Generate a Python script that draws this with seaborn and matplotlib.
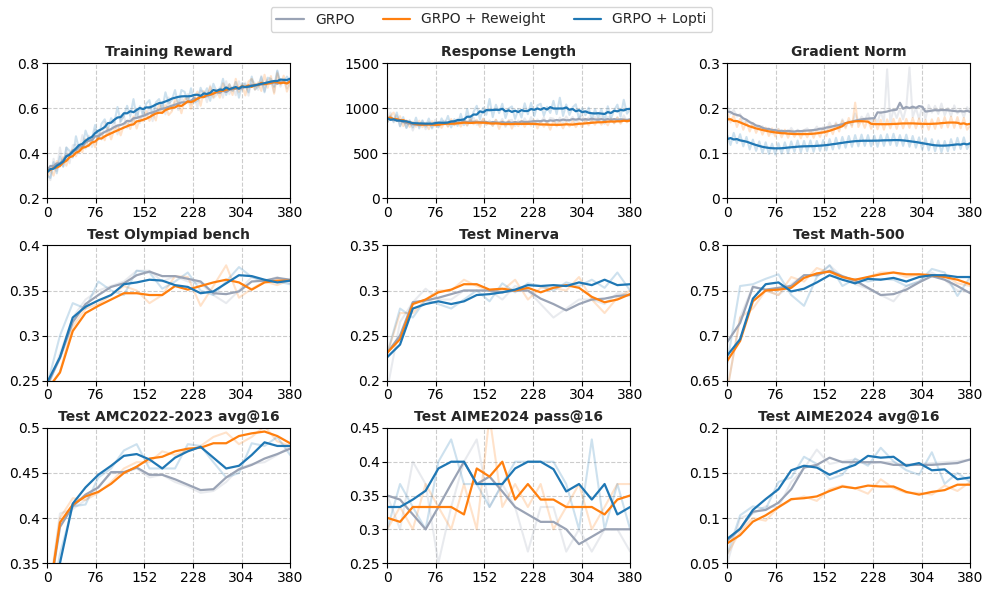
import numpy as np
import pandas as pd
import matplotlib
matplotlib.use("Agg")
import matplotlib.pyplot as plt
from matplotlib.ticker import MultipleLocator, FuncFormatter
import seaborn as sns

# ---------------- data ----------------
methods = ["GRPO", "GRPO + Reweight", "GRPO + Lopti"]
colors = {"GRPO": "#9aa3b5", "GRPO + Reweight": "#ff7f0e", "GRPO + Lopti": "#1f77b4"}

steps_train = np.arange(0, 381, 5)   # 77 points
steps_test = np.arange(0, 381, 20)   # 20 points
x_ticks = [0, 76, 152, 228, 304, 380]

# ---- Training Reward (raw) ----
reward_grpo = [0.315, 0.28, 0.375, 0.32, 0.425, 0.34, 0.425, 0.355, 0.435, 0.438, 0.40,
               0.48, 0.42, 0.478, 0.427, 0.505, 0.492, 0.46, 0.537, 0.484, 0.50, 0.547,
               0.483, 0.55, 0.566, 0.512, 0.558, 0.533, 0.598, 0.533, 0.587, 0.562, 0.607,
               0.542, 0.607, 0.582, 0.627, 0.572, 0.647, 0.592, 0.627, 0.591, 0.645, 0.619,
               0.662, 0.616, 0.65, 0.604, 0.678, 0.672, 0.626, 0.70, 0.644, 0.658, 0.692,
               0.646, 0.719, 0.662, 0.695, 0.657, 0.719, 0.681, 0.713, 0.655, 0.727, 0.709,
               0.681, 0.743, 0.675, 0.727, 0.719, 0.671, 0.763, 0.695, 0.726, 0.687, 0.728]
reward_rew = [0.295, 0.325, 0.30, 0.365, 0.34, 0.382, 0.344, 0.396, 0.416, 0.386, 0.425,
              0.404, 0.462, 0.43, 0.468, 0.426, 0.473, 0.49, 0.457, 0.514, 0.461, 0.507,
              0.523, 0.479, 0.525, 0.541, 0.507, 0.563, 0.509, 0.555, 0.541, 0.587, 0.543,
              0.579, 0.545, 0.621, 0.577, 0.613, 0.569, 0.585, 0.64, 0.624, 0.577, 0.64,
              0.643, 0.597, 0.645, 0.673, 0.61, 0.675, 0.65, 0.694, 0.648, 0.682, 0.646,
              0.71, 0.673, 0.706, 0.658, 0.73, 0.672, 0.704, 0.656, 0.718, 0.73, 0.682,
              0.714, 0.676, 0.748, 0.69, 0.742, 0.664, 0.755, 0.705, 0.744, 0.673, 0.712]
reward_lopti = [0.30, 0.29, 0.36, 0.31, 0.385, 0.34, 0.425, 0.41, 0.38, 0.475, 0.417,
                0.42, 0.50, 0.46, 0.465, 0.525, 0.46, 0.53, 0.55, 0.505, 0.555, 0.535,
                0.605, 0.54, 0.565, 0.61, 0.565, 0.64, 0.555, 0.608, 0.57, 0.62, 0.635,
                0.57, 0.625, 0.64, 0.595, 0.67, 0.62, 0.635, 0.68, 0.615, 0.68, 0.672,
                0.625, 0.688, 0.625, 0.632, 0.69, 0.655, 0.688, 0.632, 0.708, 0.672, 0.666,
                0.73, 0.658, 0.706, 0.676, 0.716, 0.646, 0.71, 0.705, 0.67, 0.74, 0.682,
                0.695, 0.738, 0.67, 0.735, 0.73, 0.695, 0.767, 0.71, 0.715, 0.74, 0.72]

# ---- Response Length (raw) ----
length_grpo = [870, 950, 840, 920, 795, 870, 780, 865, 750, 848, 796,
               855, 765, 846, 788, 870, 783, 846, 860, 794, 857, 810,
               882, 824, 875, 805, 865, 895, 815, 825, 885, 815, 863,
               802, 871, 820, 880, 790, 860, 870, 800, 862, 814, 886,
               818, 900, 812, 874, 836, 898, 810, 891, 882, 823, 894,
               835, 907, 849, 901, 823, 895, 915, 845, 895, 835, 905,
               855, 914, 823, 902, 891, 830, 900, 840, 920, 850, 870]
length_rew = [840, 915, 950, 855, 910, 800, 865, 790, 846, 792, 860,
              788, 837, 766, 855, 796, 848, 780, 843, 795, 878, 810,
              862, 794, 855, 807, 878, 820, 870, 790, 878, 816, 845,
              803, 870, 768, 856, 805, 863, 772, 851, 800, 861, 792,
              853, 804, 865, 774, 853, 792, 841, 760, 858, 796, 845,
              775, 845, 795, 856, 788, 842, 787, 882, 808, 862, 815,
              885, 815, 866, 808, 880, 832, 894, 826, 878, 842, 865]
length_lopti = [840, 910, 850, 951, 800, 900, 780, 860, 785, 894, 774,
                864, 794, 884, 774, 846, 790, 885, 820, 913, 785, 878,
                802, 936, 810, 990, 835, 957, 1025, 875, 1003, 925, 1101,
                900, 1037, 944, 1048, 890, 995, 1018, 880, 987, 895, 1053,
                932, 1058, 911, 1030, 1048, 916, 1014, 946, 1080, 933, 1115,
                913, 1040, 924, 1008, 1042, 875, 998, 920, 1005, 870, 987,
                893, 990, 858, 1020, 885, 975, 1038, 905, 1092, 938, 984]

# ---- Gradient Norm (raw) ----
grad_grpo = [0.205, 0.187, 0.196, 0.181, 0.187, 0.165, 0.173, 0.171, 0.157, 0.162, 0.153,
             0.16, 0.149, 0.155, 0.143, 0.153, 0.154, 0.144, 0.15, 0.142, 0.156, 0.145,
             0.152, 0.143, 0.151, 0.155, 0.146, 0.149, 0.159, 0.149, 0.158, 0.15, 0.168,
             0.154, 0.168, 0.155, 0.175, 0.159, 0.171, 0.162, 0.188, 0.167, 0.181, 0.173,
             0.188, 0.168, 0.18, 0.168, 0.192, 0.169, 0.286, 0.168, 0.197, 0.178, 0.198,
             0.175, 0.202, 0.29, 0.18, 0.20, 0.176, 0.204, 0.176, 0.207, 0.19, 0.205,
             0.187, 0.21, 0.184, 0.2, 0.182, 0.206, 0.188, 0.198, 0.18, 0.202, 0.19]
grad_rew = [0.19, 0.168, 0.184, 0.158, 0.176, 0.152, 0.17, 0.148, 0.166, 0.145, 0.16,
            0.141, 0.157, 0.138, 0.155, 0.137, 0.153, 0.135, 0.152, 0.134, 0.15, 0.136,
            0.149, 0.133, 0.15, 0.135, 0.151, 0.134, 0.152, 0.136, 0.155, 0.138, 0.16,
            0.142, 0.165, 0.148, 0.172, 0.155, 0.178, 0.158, 0.212, 0.158, 0.175, 0.156,
            0.176, 0.154, 0.175, 0.153, 0.174, 0.152, 0.175, 0.155, 0.176, 0.154, 0.177,
            0.155, 0.176, 0.156, 0.178, 0.155, 0.177, 0.154, 0.174, 0.152, 0.175, 0.154,
            0.178, 0.156, 0.18, 0.157, 0.181, 0.156, 0.18, 0.155, 0.178, 0.152, 0.161]
grad_lopti = [0.14, 0.118, 0.145, 0.122, 0.142, 0.115, 0.136, 0.108, 0.13, 0.105, 0.126,
              0.1, 0.124, 0.098, 0.121, 0.097, 0.122, 0.099, 0.124, 0.1, 0.126, 0.103,
              0.128, 0.102, 0.127, 0.104, 0.128, 0.103, 0.127, 0.105, 0.129, 0.106, 0.131,
              0.108, 0.134, 0.11, 0.136, 0.112, 0.138, 0.114, 0.14, 0.115, 0.141, 0.116,
              0.14, 0.115, 0.139, 0.114, 0.14, 0.116, 0.142, 0.118, 0.143, 0.116, 0.14,
              0.116, 0.141, 0.114, 0.138, 0.112, 0.135, 0.108, 0.133, 0.106, 0.131, 0.104,
              0.128, 0.102, 0.127, 0.104, 0.131, 0.107, 0.134, 0.109, 0.135, 0.109, 0.122]

# ---- Test Olympiad bench ----
oly_grpo_raw = [0.24, 0.28, 0.32, 0.34, 0.35, 0.355, 0.36, 0.372, 0.372, 0.36,
                0.366, 0.36, 0.358, 0.345, 0.336, 0.35, 0.365, 0.36, 0.365, 0.358]
oly_rew_raw = [0.24, 0.26, 0.31, 0.33, 0.335, 0.345, 0.355, 0.35, 0.336, 0.345,
               0.366, 0.365, 0.333, 0.355, 0.378, 0.342, 0.352, 0.36, 0.356, 0.362]
oly_lopti_raw = [0.245, 0.30, 0.336, 0.33, 0.36, 0.35, 0.345, 0.372, 0.37, 0.352,
                 0.36, 0.37, 0.35, 0.345, 0.36, 0.376, 0.365, 0.36, 0.36, 0.357]
oly_grpo = [0.245, 0.275, 0.315, 0.335, 0.345, 0.354, 0.358, 0.367, 0.371, 0.366,
            0.366, 0.363, 0.36, 0.347, 0.346, 0.349, 0.36, 0.361, 0.364, 0.362]
oly_rew = [0.24, 0.259, 0.305, 0.325, 0.333, 0.34, 0.347, 0.347, 0.345, 0.345,
           0.355, 0.351, 0.355, 0.359, 0.362, 0.359, 0.351, 0.359, 0.361, 0.361]
oly_lopti = [0.248, 0.276, 0.32, 0.332, 0.339, 0.345, 0.357, 0.359, 0.362, 0.361,
             0.356, 0.354, 0.347, 0.349, 0.358, 0.367, 0.366, 0.362, 0.359, 0.361]

# ---- Test Minerva ----
min_grpo_raw = [0.19, 0.265, 0.287, 0.302, 0.29, 0.29, 0.3, 0.3, 0.3, 0.29,
                0.305, 0.3, 0.285, 0.27, 0.28, 0.29, 0.29, 0.285, 0.297, 0.296]
min_rew_raw = [0.23, 0.275, 0.275, 0.29, 0.3, 0.3, 0.312, 0.305, 0.3, 0.3,
               0.312, 0.29, 0.303, 0.303, 0.3, 0.315, 0.29, 0.275, 0.292, 0.3]
min_lopti_raw = [0.23, 0.28, 0.27, 0.29, 0.285, 0.28, 0.29, 0.3, 0.288, 0.308,
                 0.298, 0.308, 0.305, 0.30, 0.309, 0.305, 0.312, 0.303, 0.32, 0.30]
min_grpo = [0.231, 0.25, 0.287, 0.289, 0.292, 0.296, 0.3, 0.3, 0.3, 0.298,
            0.3, 0.3, 0.291, 0.285, 0.278, 0.285, 0.29, 0.291, 0.294, 0.295]
min_rew = [0.231, 0.246, 0.285, 0.29, 0.298, 0.301, 0.307, 0.307, 0.301, 0.302,
           0.3, 0.303, 0.298, 0.303, 0.306, 0.303, 0.293, 0.287, 0.29, 0.296]
min_lopti = [0.226, 0.24, 0.28, 0.285, 0.288, 0.285, 0.288, 0.295, 0.296, 0.298,
             0.301, 0.306, 0.305, 0.306, 0.305, 0.309, 0.306, 0.312, 0.306, 0.307]

# ---- Test Math-500 ----
m500_grpo_raw = [0.64, 0.72, 0.755, 0.75, 0.745, 0.757, 0.767, 0.767, 0.778, 0.765,
                 0.757, 0.752, 0.745, 0.738, 0.755, 0.76, 0.77, 0.762, 0.75, 0.748]
m500_rew_raw = [0.64, 0.72, 0.73, 0.75, 0.745, 0.765, 0.76, 0.775, 0.77, 0.765,
                0.76, 0.765, 0.77, 0.77, 0.765, 0.768, 0.765, 0.767, 0.758, 0.755]
m500_lopti_raw = [0.67, 0.755, 0.757, 0.763, 0.768, 0.745, 0.733, 0.765, 0.778, 0.755,
                  0.763, 0.76, 0.763, 0.762, 0.755, 0.76, 0.774, 0.77, 0.744, 0.765]
m500_grpo = [0.693, 0.714, 0.754, 0.751, 0.753, 0.755, 0.767, 0.767, 0.772, 0.766,
             0.761, 0.753, 0.745, 0.746, 0.751, 0.759, 0.766, 0.762, 0.755, 0.747]
m500_rew = [0.672, 0.694, 0.738, 0.75, 0.751, 0.753, 0.764, 0.769, 0.771, 0.765,
            0.762, 0.765, 0.768, 0.77, 0.768, 0.768, 0.767, 0.765, 0.762, 0.757]
m500_lopti = [0.678, 0.696, 0.741, 0.757, 0.759, 0.749, 0.752, 0.759, 0.767, 0.762,
              0.758, 0.763, 0.762, 0.764, 0.76, 0.765, 0.767, 0.767, 0.765, 0.765]

# ---- Test AMC2022-2023 avg@16 ----
amc_grpo_raw = [0.30, 0.405, 0.41, 0.42, 0.435, 0.45, 0.45, 0.455, 0.445, 0.448,
                0.44, 0.435, 0.428, 0.43, 0.44, 0.455, 0.46, 0.462, 0.47, 0.48]
amc_rew_raw = [0.30, 0.40, 0.422, 0.42, 0.428, 0.44, 0.455, 0.462, 0.462, 0.474,
               0.47, 0.475, 0.48, 0.49, 0.495, 0.482, 0.49, 0.502, 0.485, 0.48]
amc_lopti_raw = [0.28, 0.36, 0.413, 0.415, 0.445, 0.455, 0.475, 0.482, 0.455, 0.455,
                 0.455, 0.482, 0.48, 0.462, 0.445, 0.45, 0.483, 0.48, 0.49, 0.47]
amc_grpo = [0.30, 0.39, 0.413, 0.426, 0.434, 0.451, 0.451, 0.456, 0.448, 0.448,
            0.443, 0.437, 0.431, 0.432, 0.445, 0.454, 0.459, 0.466, 0.471, 0.477]
amc_rew = [0.30, 0.395, 0.415, 0.424, 0.429, 0.438, 0.45, 0.457, 0.466, 0.468,
           0.474, 0.477, 0.478, 0.483, 0.483, 0.491, 0.494, 0.496, 0.491, 0.483]
amc_lopti = [0.28, 0.35, 0.416, 0.434, 0.448, 0.458, 0.469, 0.471, 0.465, 0.455,
             0.467, 0.474, 0.479, 0.467, 0.455, 0.458, 0.47, 0.484, 0.48, 0.48]

# ---- Test AIME2024 pass@16 ----
pass_grpo_raw = [0.35, 0.3, 0.4, 0.367, 0.25, 0.333, 0.4, 0.433, 0.333, 0.367,
                 0.333, 0.267, 0.333, 0.333, 0.267, 0.3, 0.267, 0.3, 0.3, 0.267]
pass_rew_raw = [0.3, 0.333, 0.3, 0.367, 0.333, 0.3, 0.367, 0.3, 0.467, 0.333,
                0.367, 0.333, 0.367, 0.3, 0.333, 0.367, 0.3, 0.333, 0.367, 0.367]
pass_lopti_raw = [0.3, 0.367, 0.333, 0.3, 0.4, 0.433, 0.367, 0.367, 0.333, 0.367,
                  0.4, 0.4, 0.4, 0.4, 0.367, 0.3, 0.433, 0.3, 0.367, 0.3]
pass_grpo = [0.35, 0.344, 0.322, 0.3, 0.333, 0.367, 0.4, 0.367, 0.378, 0.356,
             0.333, 0.322, 0.311, 0.311, 0.3, 0.278, 0.289, 0.3, 0.3, 0.3]
pass_rew = [0.317, 0.311, 0.333, 0.333, 0.333, 0.333, 0.322, 0.39, 0.378, 0.4,
            0.344, 0.367, 0.344, 0.344, 0.333, 0.333, 0.333, 0.322, 0.344, 0.35]
pass_lopti = [0.333, 0.333, 0.344, 0.357, 0.39, 0.4, 0.4, 0.367, 0.367, 0.367,
              0.39, 0.4, 0.4, 0.389, 0.356, 0.367, 0.344, 0.367, 0.322, 0.333]

# ---- Test AIME2024 avg@16 ----
avg_grpo_raw = [0.05, 0.1, 0.105, 0.113, 0.112, 0.14, 0.155, 0.176, 0.16, 0.163,
                0.165, 0.16, 0.162, 0.162, 0.157, 0.16, 0.161, 0.162, 0.163, 0.165]
avg_rew_raw = [0.06, 0.085, 0.1, 0.097, 0.112, 0.12, 0.124, 0.119, 0.132, 0.136,
               0.133, 0.127, 0.143, 0.133, 0.128, 0.128, 0.126, 0.136, 0.13, 0.14]
avg_lopti_raw = [0.06, 0.103, 0.113, 0.11, 0.14, 0.145, 0.168, 0.16, 0.143, 0.148,
                 0.166, 0.158, 0.178, 0.163, 0.153, 0.148, 0.173, 0.138, 0.15, 0.14]
avg_grpo = [0.075, 0.088, 0.107, 0.109, 0.117, 0.132, 0.156, 0.159, 0.167, 0.162,
            0.162, 0.162, 0.162, 0.159, 0.159, 0.159, 0.159, 0.16, 0.161, 0.165]
avg_rew = [0.072, 0.081, 0.096, 0.103, 0.112, 0.121, 0.122, 0.124, 0.13, 0.135,
           0.133, 0.136, 0.135, 0.135, 0.129, 0.126, 0.129, 0.131, 0.137, 0.137]
avg_lopti = [0.077, 0.088, 0.109, 0.121, 0.132, 0.153, 0.158, 0.156, 0.148, 0.154,
             0.159, 0.169, 0.167, 0.168, 0.158, 0.161, 0.153, 0.154, 0.143, 0.145]

# ---------------- panel definitions ----------------
train_panels = [
    ("Training Reward", (reward_grpo, reward_rew, reward_lopti), (0.2, 0.8), 0.2),
    ("Response Length", (length_grpo, length_rew, length_lopti), (0, 1500), 500),
    ("Gradient Norm", (grad_grpo, grad_rew, grad_lopti), (0, 0.3), 0.1),
]
test_panels = [
    ("Test Olympiad bench", (oly_grpo_raw, oly_rew_raw, oly_lopti_raw),
     (oly_grpo, oly_rew, oly_lopti), (0.25, 0.4), 0.05),
    ("Test Minerva", (min_grpo_raw, min_rew_raw, min_lopti_raw),
     (min_grpo, min_rew, min_lopti), (0.2, 0.35), 0.05),
    ("Test Math-500", (m500_grpo_raw, m500_rew_raw, m500_lopti_raw),
     (m500_grpo, m500_rew, m500_lopti), (0.65, 0.8), 0.05),
    ("Test AMC2022-2023 avg@16", (amc_grpo_raw, amc_rew_raw, amc_lopti_raw),
     (amc_grpo, amc_rew, amc_lopti), (0.35, 0.5), 0.05),
    ("Test AIME2024 pass@16", (pass_grpo_raw, pass_rew_raw, pass_lopti_raw),
     (pass_grpo, pass_rew, pass_lopti), (0.25, 0.45), 0.05),
    ("Test AIME2024 avg@16", (avg_grpo_raw, avg_rew_raw, avg_lopti_raw),
     (avg_grpo, avg_rew, avg_lopti), (0.05, 0.2), 0.05),
]

# ---------------- plotting ----------------
sns.set_theme(style="ticks")
plt.rcParams["font.family"] = ["DejaVu Sans"]
plt.rcParams["axes.edgecolor"] = "black"
plt.rcParams["axes.linewidth"] = 0.8
plt.rcParams["xtick.color"] = "black"
plt.rcParams["ytick.color"] = "black"

fig, axes = plt.subplots(3, 3, figsize=(9.83, 5.89), dpi=100)
fig.subplots_adjust(left=0.048, right=0.987, top=0.893, bottom=0.044,
                    wspace=0.40, hspace=0.35)

fmt = FuncFormatter(lambda v, p: "%g" % round(v, 6))


def long_df(x, series):
    frames = []
    for m, vals in zip(methods, series):
        frames.append(pd.DataFrame({"step": x, "value": vals, "method": m}))
    return pd.concat(frames, ignore_index=True)


def style_axis(ax, title, ylim, ystep):
    ax.set_title(title, fontsize=10, fontweight="bold", pad=5)
    ax.set_xlim(0, 380)
    ax.set_ylim(*ylim)
    ax.set_xticks(x_ticks)
    ax.yaxis.set_major_locator(MultipleLocator(ystep))
    ax.yaxis.set_major_formatter(fmt)
    ax.tick_params(labelsize=10, length=3.5, width=0.8, pad=2)
    ax.grid(True, linestyle="--", color="#cccccc", linewidth=0.8)
    ax.set_xlabel("")
    ax.set_ylabel("")


all_panels = []
for title, raws, ylim, ystep in train_panels:
    smooth = [pd.Series(r).rolling(8, center=True, min_periods=1).mean().values for r in raws]
    all_panels.append((title, steps_train, raws, smooth, ylim, ystep))
for title, raws, smooth, ylim, ystep in test_panels:
    all_panels.append((title, steps_test, raws, smooth, ylim, ystep))

for ax, (title, x, raws, smooth, ylim, ystep) in zip(axes.flat, all_panels):
    raw_df = long_df(x, raws)
    sm_df = long_df(x, smooth)
    sns.lineplot(data=raw_df, x="step", y="value", hue="method", hue_order=methods,
                 palette=colors, estimator=None, linewidth=1.5, alpha=0.22,
                 legend=False, ax=ax)
    sns.lineplot(data=sm_df, x="step", y="value", hue="method", hue_order=methods,
                 palette=colors, estimator=None, linewidth=1.6,
                 legend=True, ax=ax)
    style_axis(ax, title, ylim, ystep)

handles, labels = axes[0, 0].get_legend_handles_labels()
for a in axes.flat:
    if a.get_legend() is not None:
        a.get_legend().remove()
fig.legend(handles, labels, loc="upper center", bbox_to_anchor=(0.5, 1.0),
           ncol=3, fontsize=10, frameon=True, fancybox=True, edgecolor="#cccccc",
           columnspacing=2.0, handlelength=2.0)

fig.savefig("out.png", dpi=100)
